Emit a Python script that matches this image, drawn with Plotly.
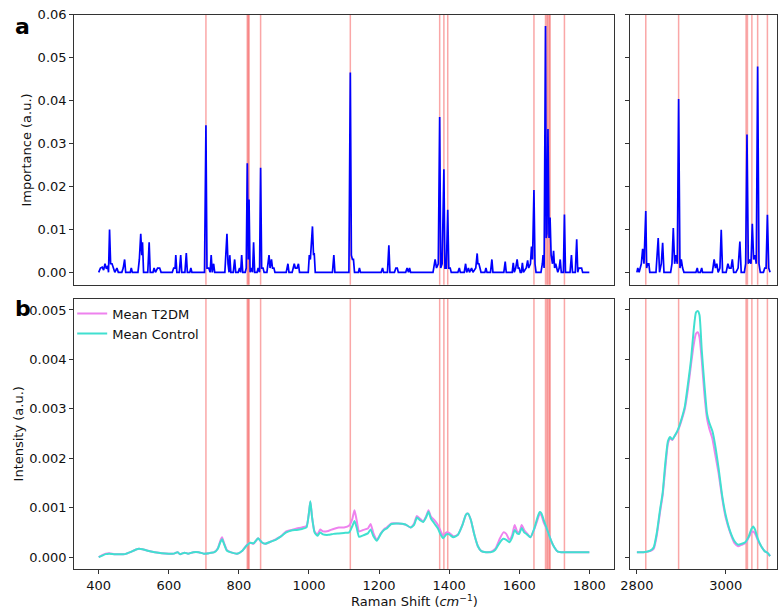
import plotly.graph_objects as go

# ---------------- data ----------------
imp_lo_x = [400,405,410,414,418,422,426,428,431,434,438,442,446,452,456,466,470,474,477,490,493,496,512,516,520,523,525,528,540,544,547,555,558,562,568,574,578,
            610,614,618,620,623,630,634,637,646,650,653,660,663,666,702,706,709,714,718,721,724,728,731,760,766,769,772,774,777,784,788,791,798,802,805,808,811,
            818,821,824,827,829,832,836,839,842,845,852,855,859,862,865,869,872,880,883,886,889,893,896,900,903,935,940,943,952,955,958,961,966,970,973,
            998,1001,1004,1007,1010,1013,1015,1018,1067,1071,1074,1114,1118,1121,1124,1127,1130,1141,1144,1147,1206,1210,1213,1224,1228,1231,1244,1248,1252,1255,
            1276,1280,1284,1287,1290,1354,1360,1364,1369,1373,1376,1380,1385,1388,1392,1396,1399,1403,1406,1425,1429,1432,1443,1447,1450,1455,1458,1464,1468,
            1476,1480,1482,1485,1488,1491,1502,1505,1508,1518,1522,1525,1556,1560,1563,1580,1583,1586,1590,1594,1597,1600,1603,1606,1609,1612,1620,1624,1627,
            1632,1635,1638,1642,1645,1648,1662,1666,1668,1671,1675,1677,1679,1682,1685,1688,1691,1695,1698,1701,1704,1707,1710,1714,1717,1720,1726,1729,1732,
            1745,1749,1752,1760,1764,1767,1770,1774,1778,1781,1800]
imp_lo_y = [0,0.001,0.0012,0.0005,0.002,0.0008,0.0015,0,0.010,0.002,0.002,0.001,0,0.001,0,0,0.001,0.003,0,0,0.001,0,0,0.003,0.009,0.004,0.007,0,0,0.007,0,0,0.001,0,0.001,0.001,0,
            0,0.001,0.001,0.004,0,0,0.004,0,0,0.0045,0,0,0.001,0,0,0.0343,0.001,0.001,0,0.004,0,0.002,0,0,0.009,0.002,0,0.004,0,0,0.003,0,0,0.001,0,0.004,0,
            0,0.001,0.0254,0.003,0.017,0,0.001,0,0.007,0,0,0.001,0,0.0244,0.001,0.001,0,0,0.002,0.004,0.001,0.003,0.001,0.001,0,0,0.002,0,0,0.001,0.002,0.001,0.001,0.002,0,
            0,0.004,0.003,0.006,0.0107,0.004,0.0045,0,0,0.004,0,0,0.0466,0.004,0.003,0.003,0,0,0.001,0,0,0.001,0,0,0.0063,0,0,0.001,0.001,0,
            0,0.001,0,0.001,0,0,0.003,0.001,0.002,0.0362,0.001,0.002,0.024,0.001,0.001,0.0146,0.001,0.001,0,0,0.001,0,0,0.002,0,0.001,0,0.001,0,
            0.001,0.0044,0.002,0.002,0.001,0,0,0.001,0,0,0.003,0,0,0.0025,0,0,0.0022,0,0.001,0.003,0.001,0.001,0,0,0.0022,0,0.001,0.0028,0.001,
            0.002,0.006,0.003,0.0192,0.002,0,0,0.002,0.004,0.001,0.0574,0.008,0.009,0.0334,0.008,0.0128,0.004,0.002,0.005,0.001,0.002,0.001,0,0.001,0.003,0,0,0.0135,0,
            0,0.004,0,0,0.0077,0,0.001,0.001,0.001,0,0]

imp_hi_x = [2800,2802,2805,2810,2813,2816,2820,2822,2824,2827,2829,2843,2848,2851,2855,2858,2861,2876,2879,2882,2885,2888,2891,2894,2897,2900,2903,2906,
            2933,2936,2938,2943,2946,2948,2970,2974,2977,2980,2983,2987,2990,2993,3001,3005,3008,3012,3015,3018,3023,3028,3032,3035,
            3042,3045,3048,3051,3054,3057,3060,3063,3066,3069,3072,3075,3078,3085,3088,3091,3094,3097,3100]
imp_hi_y = [0,0.001,0,0.002,0.0055,0.002,0.0143,0.001,0.002,0.002,0,0,0.008,0,0.002,0.0069,0,0,0.002,0.0103,0.002,0.004,0.002,0.0404,0.001,0.003,0.001,0,
            0,0.001,0,0,0.001,0,0,0.003,0.001,0.002,0,0.001,0.0099,0,0,0.002,0.001,0.001,0.003,0,0,0.001,0.0072,0,
            0,0.002,0.0321,0.002,0.003,0.002,0.0113,0.003,0.004,0.002,0.048,0.002,0,0,0.001,0.001,0.0134,0.001,0]

spec_lo_x = [400,410,420,430,445,460,475,490,505,515,525,540,560,580,600,615,625,632,645,655,670,685,700,715,730,740,747,752,758,766,780,795,
             810,822,832,842,855,865,875,890,905,920,935,950,965,980,993,1000,1004,1009,1016,1024,1032,1040,1055,1070,1085,1100,1115,1124,1130,
             1136,1143,1155,1168,1176,1184,1194,1205,1214,1222,1235,1255,1275,1290,1300,1308,1318,1326,1334,1341,1348,1358,1368,1376,1383,1392,
             1400,1412,1425,1438,1448,1454,1462,1472,1482,1492,1505,1520,1532,1545,1555,1563,1572,1580,1587,1594,1600,1607,1614,1622,1632,1642,
             1652,1658,1663,1670,1680,1690,1700,1710,1720,1740,1760,1780,1800]
spec_lo_t2dm = [0.0,0.00004,0.00007,0.00008,0.00006,0.00006,0.00006,0.0001,0.00015,0.00017,0.00016,0.00013,0.0001,0.00008,0.00007,0.00007,0.0001,0.00006,0.00009,0.00007,0.0001,0.0001,0.00007,0.00008,0.0001,0.00018,0.00033,0.0004,0.00028,0.00014,0.00009,0.00007,
                0.00013,0.00024,0.00029,0.00027,0.00038,0.0003,0.00027,0.00031,0.00036,0.00042,0.00052,0.00055,0.00058,0.0006,0.00063,0.0009,0.00112,0.0008,0.00052,0.00045,0.00056,0.00052,0.00053,0.00057,0.0006,0.0006,0.00064,0.00078,0.00095,
                0.00075,0.00052,0.00055,0.00058,0.00067,0.00048,0.00035,0.00048,0.00056,0.0006,0.00068,0.00068,0.00066,0.0006,0.00068,0.00083,0.00077,0.00072,0.00082,0.00095,0.00082,0.00075,0.00065,0.00052,0.00043,0.0005,
                0.00049,0.00042,0.00045,0.00065,0.00086,0.00088,0.00075,0.00045,0.00022,0.00012,0.0001,0.00011,0.00017,0.00038,0.0005,0.00047,0.00035,0.00045,0.00065,0.00052,0.0005,0.00065,0.00055,0.00048,0.0004,0.00055,
                0.00075,0.00087,0.00085,0.0007,0.00055,0.00035,0.0002,0.00011,0.0001,0.0001,0.0001,0.0001,0.0001]
spec_lo_ctrl = [0.0,0.00003,0.00006,0.00007,0.00006,0.00006,0.00006,0.0001,0.00015,0.00017,0.00016,0.00013,0.0001,0.00008,0.00007,0.00007,0.0001,0.00006,0.00009,0.00007,0.0001,0.0001,0.00007,0.00008,0.0001,0.00017,0.0003,0.00036,0.00026,0.00013,0.00009,0.00007,
                0.00013,0.00023,0.00029,0.00028,0.00038,0.0003,0.00027,0.00031,0.00035,0.00042,0.0005,0.00054,0.00055,0.00057,0.0006,0.0009,0.00113,0.0008,0.0005,0.00043,0.0005,0.00046,0.00045,0.00047,0.00048,0.00049,0.0005,0.00063,0.00073,
                0.0006,0.00041,0.00044,0.00048,0.00056,0.00042,0.00033,0.00047,0.00055,0.00058,0.00067,0.00068,0.00066,0.0006,0.00065,0.0008,0.00074,0.00071,0.0008,0.00092,0.00078,0.00068,0.00058,0.00045,0.00038,0.00046,
                0.00046,0.0004,0.00045,0.00065,0.00086,0.00088,0.00075,0.00045,0.00022,0.00012,0.0001,0.0001,0.00015,0.0003,0.00037,0.00035,0.0003,0.0004,0.00055,0.00048,0.00047,0.00059,0.0005,0.00046,0.0004,0.00056,
                0.0008,0.00091,0.00089,0.00075,0.00055,0.00035,0.0002,0.00011,0.0001,0.0001,0.0001,0.0001,0.0001]

spec_hi_x = [2800,2815,2830,2838,2845,2852,2858,2864,2870,2875,2880,2885,2892,2900,2908,2915,2922,2928,2933,2937,2941,2946,2952,2958,2963,2970,
             2976,2984,2992,3000,3010,3020,3028,3036,3044,3052,3058,3062,3066,3072,3080,3088,3095,3100]
spec_hi_t2dm = [0.0001,0.0001,0.00012,0.00017,0.00045,0.0009,0.00125,0.0018,0.0023,0.0024,0.00237,0.00245,0.00255,0.00275,0.003,0.0034,0.0039,0.0043,0.00452,0.00455,0.00445,0.004,0.0033,0.0028,0.0026,0.0024,
                0.0021,0.0017,0.0012,0.0008,0.0005,0.00028,0.00022,0.00025,0.00028,0.0004,0.0005,0.00052,0.00048,0.00035,0.00022,0.00012,0.00008,0.00002]
spec_hi_ctrl = [0.0001,0.0001,0.00013,0.0002,0.0005,0.00095,0.0013,0.0019,0.00235,0.00243,0.00238,0.00245,0.00257,0.00278,0.00305,0.0035,0.004,0.0046,0.00495,0.00498,0.0049,0.0042,0.0035,0.0029,0.00272,0.00255,
                0.00228,0.0018,0.00125,0.00085,0.00052,0.00032,0.00025,0.00027,0.0003,0.00042,0.00057,0.00062,0.00056,0.00038,0.00022,0.00012,0.00008,0.00002]

sel_lo = [706, 824, 827, 829, 862, 1118, 1373, 1385, 1396, 1642, 1675, 1679, 1682, 1686, 1688, 1729]
sel_hi = [2820, 2894, 3046, 3049, 3059, 3072, 3094]

lo_ticks = [400, 600, 800, 1000, 1200, 1400, 1600, 1800]
hi_ticks = [2800, 3000]
imp_ticks = [0.0, 0.01, 0.02, 0.03, 0.04, 0.05, 0.06]
int_ticks = [0.0, 0.001, 0.002, 0.003, 0.004, 0.005]

# ---------------- figure ----------------
W, H = 779, 609
fig = go.Figure()

BLUE = "#0000ff"
VIOLET = "#ee82ee"
TURQ = "#40e0d0"
RED = "rgba(245,80,80,0.5)"

fig.add_trace(go.Scatter(x=imp_lo_x, y=imp_lo_y, mode="lines", line=dict(color=BLUE, width=1.7),
                         xaxis="x", yaxis="y", showlegend=False))
fig.add_trace(go.Scatter(x=imp_hi_x, y=imp_hi_y, mode="lines", line=dict(color=BLUE, width=1.7),
                         xaxis="x2", yaxis="y2", showlegend=False))
fig.add_trace(go.Scatter(x=spec_lo_x, y=spec_lo_t2dm, mode="lines", name="Mean T2DM",
                         line=dict(color=VIOLET, width=2, shape="spline", smoothing=0.5), xaxis="x3", yaxis="y3"))
fig.add_trace(go.Scatter(x=spec_lo_x, y=spec_lo_ctrl, mode="lines", name="Mean Control",
                         line=dict(color=TURQ, width=2, shape="spline", smoothing=0.5), xaxis="x3", yaxis="y3"))
fig.add_trace(go.Scatter(x=spec_hi_x, y=spec_hi_t2dm, mode="lines", showlegend=False,
                         line=dict(color=VIOLET, width=2, shape="spline", smoothing=0.5), xaxis="x4", yaxis="y4"))
fig.add_trace(go.Scatter(x=spec_hi_x, y=spec_hi_ctrl, mode="lines", showlegend=False,
                         line=dict(color=TURQ, width=2, shape="spline", smoothing=0.5), xaxis="x4", yaxis="y4"))

shapes = []
for xr, yr, vals in [("x", "y", sel_lo), ("x3", "y3", sel_lo), ("x2", "y2", sel_hi), ("x4", "y4", sel_hi)]:
    for v in vals:
        shapes.append(dict(type="line", xref=xr, yref=yr + " domain", x0=v, x1=v, y0=0, y1=1,
                           line=dict(color=RED, width=1.5), layer="below"))

xl = [65 / W, 611.7 / W]
xr_ = [628.3 / W, 776.7 / W]
yt = [1 - 281 / H, 1 - 8 / H]
yb = [1 - 569 / H, 1 - 295 / H]

FONT = dict(family="DejaVu Sans", size=13, color="#111")
common = dict(showline=True, mirror=True, linecolor="#333", linewidth=1, showgrid=False,
              zeroline=False, ticks="outside", ticklen=4, tickcolor="#333", tickfont=FONT)

fig.update_layout(
    width=W, height=H, margin=dict(l=0, r=0, t=0, b=0),
    plot_bgcolor="white", paper_bgcolor="white", font=FONT,
    shapes=shapes,
    xaxis=dict(domain=xl, range=[330, 1870], anchor="y", showticklabels=False, **{**common, "ticks": ""}),
    yaxis=dict(domain=yt, range=[-0.0029, 0.06], anchor="x", tickvals=imp_ticks, tickformat=".2f", **common),
    xaxis2=dict(domain=xr_, range=[2785, 3115], anchor="y2", showticklabels=False, **{**common, "ticks": ""}),
    yaxis2=dict(domain=yt, range=[-0.0029, 0.06], anchor="x2", tickvals=imp_ticks, showticklabels=False, **common),
    xaxis3=dict(domain=xl, range=[330, 1870], anchor="y3", tickvals=lo_ticks, **common),
    yaxis3=dict(domain=yb, range=[-0.00025, 0.00523], anchor="x3", tickvals=int_ticks, tickformat=".3f", **common),
    xaxis4=dict(domain=xr_, range=[2785, 3115], anchor="y4", tickvals=hi_ticks, **common),
    yaxis4=dict(domain=yb, range=[-0.00025, 0.00523], anchor="x4", tickvals=int_ticks, showticklabels=False, **common),
    legend=dict(x=63 / W, y=1 - 295 / H, xanchor="left", yanchor="top", bgcolor="rgba(0,0,0,0)",
                font=FONT, tracegroupgap=0, itemwidth=30),
    annotations=[
        dict(text="<b>a</b>", x=3 / W, y=1 - 20 / H, xref="paper", yref="paper", showarrow=False,
             xanchor="left", yanchor="middle", font=dict(family="DejaVu Sans", size=22, color="#000")),
        dict(text="<b>b</b>", x=3 / W, y=1 - 305 / H, xref="paper", yref="paper", showarrow=False,
             xanchor="left", yanchor="middle", font=dict(family="DejaVu Sans", size=22, color="#000")),
        dict(text="Importance (a.u.)", x=17 / W, y=1 - 144.5 / H, xref="paper", yref="paper", showarrow=False,
             textangle=-90, xanchor="center", yanchor="middle", font=FONT),
        dict(text="Intensity (a.u.)", x=8.5 / W, y=1 - 432 / H, xref="paper", yref="paper", showarrow=False,
             textangle=-90, xanchor="center", yanchor="middle", font=FONT),
        dict(text="Raman Shift (<i>cm</i><sup>−1</sup>)", x=410 / W, y=1 - 601 / H, xref="paper", yref="paper",
             showarrow=False, xanchor="center", yanchor="middle", font=FONT),
    ],
)

fig.write_html("out.html")
